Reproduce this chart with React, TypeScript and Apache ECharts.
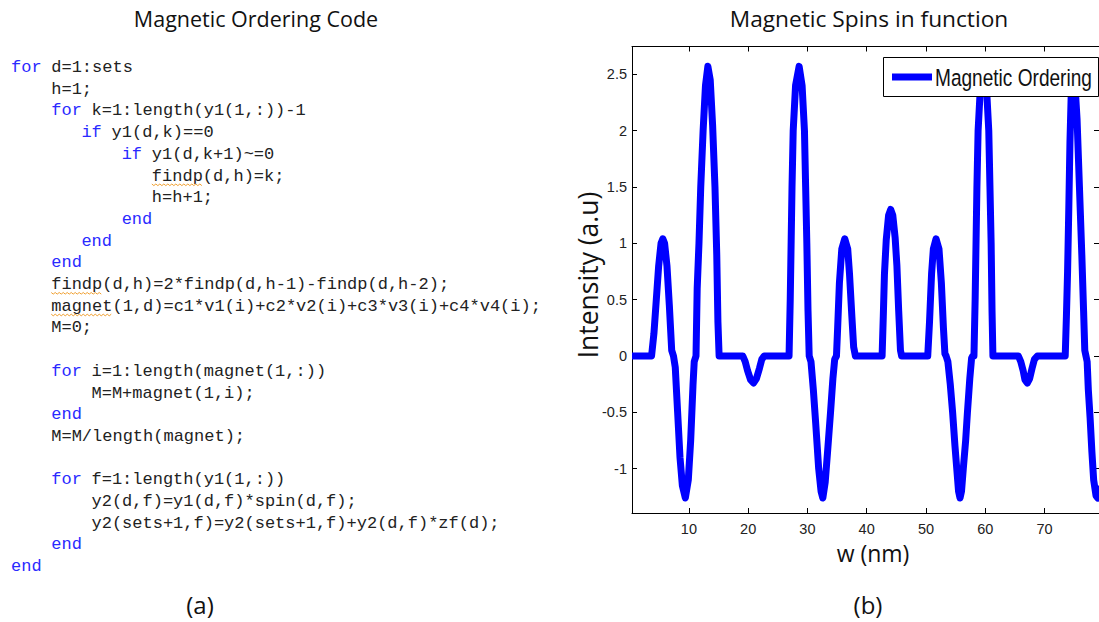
import React, { useEffect, useRef } from "react";
import * as echarts from "echarts";

// ---- Chart data ----
const wValues = [
  0.4, 3.7, 4.1, 4.5, 4.9, 5.3, 5.6, 5.9, 6.3, 6.7, 7.1, 7.4, 7.7, 8.1, 8.5, 8.9, 9.4, 9.9, 10.3, 10.7, 10.9,
  11.2, 11.4, 11.7, 12.0, 12.4, 12.8, 13.2, 13.6, 14.0, 14.4, 14.7, 14.9, 15.1, 19.1, 19.5, 19.9, 20.4, 20.9,
  21.4, 21.9, 22.3, 22.7, 26.9, 27.1, 27.25, 27.4, 27.6, 28.0, 28.6, 29.1, 29.5, 29.7, 29.9, 30.1, 30.3, 30.6,
  31.0, 31.4, 31.9, 32.3, 32.6, 33.0, 33.4, 33.9, 34.3, 34.6, 34.9, 35.1, 35.4, 35.8, 36.3, 36.8, 37.1, 37.5,
  37.8, 38.1, 42.6, 42.8, 43.0, 43.3, 43.7, 44.05, 44.4, 44.8, 45.1, 45.4, 45.7, 45.9, 50.3, 50.6, 50.95, 51.25,
  51.7, 52.2, 52.6, 52.95, 53.2, 53.4, 53.7, 54.1, 54.5, 54.9, 55.2, 55.5, 55.75, 56.0, 56.3, 56.7, 57.0, 57.4,
  57.7, 57.9, 58.1, 58.3, 58.45, 58.6, 58.8, 59.2, 59.7, 60.2, 60.6, 60.8, 61.0, 61.15, 61.3, 65.6, 66.0, 66.4,
  66.7, 67.1, 67.5, 67.9, 68.3, 68.8, 73.5, 73.7, 73.9, 74.1, 74.3, 74.5, 74.75, 75.1, 75.5, 75.9, 76.3, 76.6,
  76.8, 77.0, 77.2, 77.4, 77.7, 78.0, 78.3, 78.7, 79.0, 79.3,
];
const intensity = [
  0, 0, 0.2, 0.5, 0.8, 1.0, 1.04, 1.0, 0.8, 0.45, 0.05, 0, -0.1, -0.5, -0.9, -1.15, -1.26, -1.1, -0.75, -0.25, -0.05,
  0, 0.6, 1.0, 1.5, 2.0, 2.4, 2.57, 2.45, 2.05, 1.5, 0.9, 0.3, 0, 0, -0.05, -0.13, -0.21, -0.24,
  -0.2, -0.11, -0.03, 0, 0, 0.5, 1.0, 1.5, 2.0, 2.4, 2.57, 2.4, 2.0, 1.5, 1.0, 0.4, 0, -0.05,
  -0.3, -0.6, -1.0, -1.2, -1.26, -1.12, -0.85, -0.5, -0.2, -0.03, 0, 0.25, 0.65, 0.95, 1.04, 0.95, 0.73, 0.35,
  0.08, 0, 0, 0.35, 0.73, 1.03, 1.25, 1.3, 1.25, 1.05, 0.8, 0.4, 0.05, 0, 0, 0.3, 0.73, 0.95,
  1.04, 0.95, 0.65, 0.25, 0.02, 0, -0.05, -0.25, -0.5, -0.8, -1.0, -1.2, -1.26, -1.2, -1.0, -0.75, -0.5, -0.2,
  -0.02, 0, 0, 0.5, 1.0, 1.5, 2.0, 2.4, 2.57, 2.4, 2.0, 1.5, 1.0, 0.4, 0, 0, -0.05, -0.13,
  -0.21, -0.24, -0.2, -0.11, -0.03, 0, 0, 0.35, 0.75, 1.3, 1.9, 2.3, 2.57, 2.45, 2.1, 1.5, 0.9, 0.4,
  0.05, 0, -0.05, -0.3, -0.55, -0.85, -1.1, -1.24, -1.26, -1.15,
];
const xTickValues = [10, 20, 30, 40, 50, 60, 70];
const yTickValues = [-1, -0.5, 0, 0.5, 1, 1.5, 2, 2.5];
const xRange = [0.4, 79.2];
const yRange = [-1.393, 2.746];

const seriesName = "Magnetic Ordering";
const leftTitle = "Magnetic Ordering Code";
const rightTitle = "Magnetic Spins in function";
const xAxisName = "w (nm)";
const yAxisName = "Intensity (a.u)";
const panelLabels = ["(a)", "(b)"];

const codeLines = [
  "for d=1:sets",
  "    h=1;",
  "    for k=1:length(y1(1,:))-1",
  "       if y1(d,k)==0",
  "           if y1(d,k+1)~=0",
  "              findp(d,h)=k;",
  "              h=h+1;",
  "           end",
  "       end",
  "    end",
  "    findp(d,h)=2*findp(d,h-1)-findp(d,h-2);",
  "    magnet(1,d)=c1*v1(i)+c2*v2(i)+c3*v3(i)+c4*v4(i);",
  "    M=0;",
  "",
  "    for i=1:length(magnet(1,:))",
  "        M=M+magnet(1,i);",
  "    end",
  "    M=M/length(magnet);",
  "",
  "    for f=1:length(y1(1,:))",
  "        y2(d,f)=y1(d,f)*spin(d,f);",
  "        y2(sets+1,f)=y2(sets+1,f)+y2(d,f)*zf(d);",
  "    end",
  "end",
];
const keywords = ["for", "if", "end"];
const squiggleLines = [5, 10, 11];

export default function App() {
  const ref = useRef<HTMLDivElement>(null);

  useEffect(() => {
    if (!ref.current) return;
    const chart = echarts.init(ref.current, undefined, { renderer: "svg" });

    const codeFont = "Liberation Mono";
    const codeSize = 17;
    const charW = 10.06;
    const codeX = 11;
    const codeY0 = 67.5;
    const lineH = 21.7;
    const sans = '"Liberation Sans", Arial, sans-serif';
    const titleFont = '"Open Sans", sans-serif';
    const mid = { textVerticalAlign: "middle", verticalAlign: "middle" };

    const graphics: any[] = [];
    codeLines.forEach((line, i) => {
      const trimmed = line.replace(/^\s+/, "");
      if (!trimmed) return;
      const indent = line.length - trimmed.length;
      const y = codeY0 + i * lineH;
      const firstWord = trimmed.split(/[\s(]/)[0];
      let rest = trimmed;
      let col = indent;
      if (keywords.includes(firstWord)) {
        graphics.push({
          type: "text",
          x: codeX + col * charW,
          y,
          style: { text: firstWord, fill: "#2a2aff", fontFamily: codeFont, fontSize: codeSize, ...mid },
        });
        rest = trimmed.slice(firstWord.length).replace(/^\s+/, "");
        col = indent + firstWord.length + 1;
      }
      if (rest) {
        graphics.push({
          type: "text",
          x: codeX + col * charW,
          y,
          style: { text: rest, fill: "#222", fontFamily: codeFont, fontSize: codeSize, ...mid },
        });
      }
      if (squiggleLines.includes(i)) {
        const word = trimmed.match(/^[a-z]+/)?.[0] || "";
        const x0 = codeX + indent * charW;
        const x1 = x0 + word.length * charW;
        const pts: number[][] = [];
        let k = 0;
        for (let x = x0; x <= x1; x += 2, k++) {
          pts.push([x, y + 8 + (k % 2 === 0 ? 0 : 1.6)]);
        }
        graphics.push({
          type: "polyline",
          shape: { points: pts },
          style: { stroke: "#f0a030", lineWidth: 1, fill: null },
        });
      }
    });

    graphics.push(
      { type: "text", x: 256, y: 18, style: { text: leftTitle, fill: "#111", fontFamily: titleFont, fontSize: 21.5, textAlign: "center", ...mid } },
      { type: "text", x: 869, y: 18, style: { text: rightTitle, fill: "#111", fontFamily: titleFont, fontSize: 22.7, textAlign: "center", ...mid } },
      { type: "text", x: 200, y: 604, style: { text: panelLabels[0], fill: "#111", fontFamily: titleFont, fontSize: 24, textAlign: "center", ...mid } },
      { type: "text", x: 868, y: 604, style: { text: panelLabels[1], fill: "#111", fontFamily: titleFont, fontSize: 24, textAlign: "center", ...mid } },
      { type: "text", x: 873, y: 553, style: { text: xAxisName, fill: "#111", fontFamily: titleFont, fontSize: 23, textAlign: "center", ...mid } },
      {
        type: "text",
        x: 588,
        y: 275,
        rotation: Math.PI / 2,
        style: { text: yAxisName, fill: "#111", fontFamily: titleFont, fontSize: 26.5, textAlign: "center", ...mid },
      },
      // legend box (drawn above the curve, like the reference)
      { type: "rect", z: 100, shape: { x: 883.5, y: 57.5, width: 215, height: 39 }, style: { fill: "#fff", stroke: "#000", lineWidth: 1 } },
      { type: "line", z: 101, shape: { x1: 892, y1: 77, x2: 932, y2: 77 }, style: { stroke: "#0000ff", lineWidth: 7 } },
      {
        type: "text",
        z: 101,
        x: 935,
        y: 77.5,
        scaleX: 0.83,
        scaleY: 1.05,
        style: { text: seriesName, fill: "#111", fontFamily: sans, fontSize: 23, ...mid },
      }
    );

    const axisLine = { show: true, onZero: false, lineStyle: { color: "#000", width: 1 } };
    const tickStyle = { inside: true, length: 5, lineStyle: { color: "#000", width: 1 } };
    const labelStyle = { color: "#222", fontFamily: sans, fontSize: 14.5 };

    chart.setOption({
      animation: false,
      backgroundColor: "#fff",
      grid: { left: 632, top: 46.5, width: 468, height: 466.5, containLabel: false },
      legend: { show: false, data: [seriesName] },
      xAxis: [
        {
          type: "value",
          position: "bottom",
          min: xRange[0],
          max: xRange[1],
          axisLine,
          axisTick: { ...tickStyle, customValues: xTickValues },
          axisLabel: { ...labelStyle, margin: 8, customValues: xTickValues },
          splitLine: { show: false },
        },
        {
          type: "value",
          position: "top",
          min: xRange[0],
          max: xRange[1],
          axisLine,
          axisTick: { ...tickStyle, customValues: xTickValues },
          axisLabel: { show: false },
          splitLine: { show: false },
        },
      ],
      yAxis: [
        {
          type: "value",
          position: "left",
          min: yRange[0],
          max: yRange[1],
          axisLine,
          axisTick: { ...tickStyle, customValues: yTickValues },
          axisLabel: { ...labelStyle, margin: 5, customValues: yTickValues },
          splitLine: { show: false },
        },
        {
          type: "value",
          position: "right",
          min: yRange[0],
          max: yRange[1],
          axisLine,
          axisTick: { ...tickStyle, customValues: yTickValues },
          axisLabel: { show: false },
          splitLine: { show: false },
        },
      ],
      series: [
        {
          type: "line",
          name: seriesName,
          xAxisIndex: 0,
          yAxisIndex: 0,
          data: wValues.map((w, i) => [w, intensity[i]]),
          showSymbol: false,
          symbol: "none",
          clip: true,
          lineStyle: { width: 7, color: "#0000ff", join: "round" },
          itemStyle: { color: "#0000ff" },
        },
      ],
      graphic: graphics,
    });

    return () => chart.dispose();
  }, []);

  return (
    <div
      ref={ref}
      style={{ position: "fixed", left: 0, top: 0, width: 1099, height: 622, background: "#fff" }}
    />
  );
}
